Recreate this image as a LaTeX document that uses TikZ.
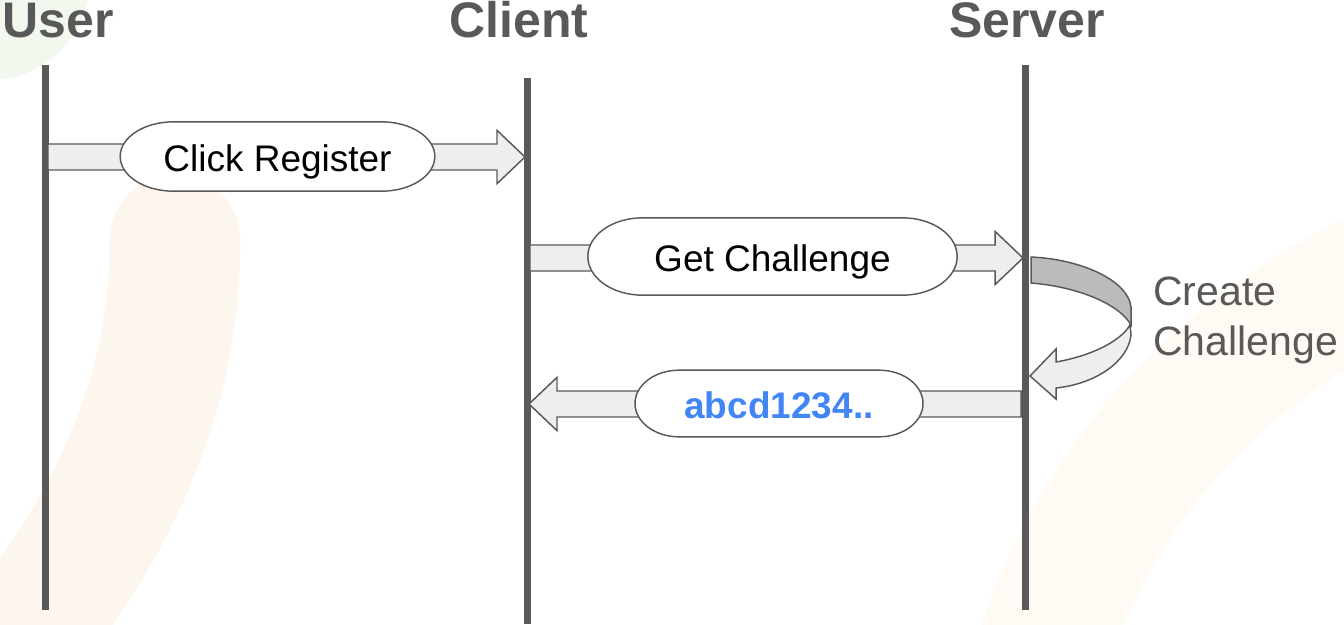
\documentclass[tikz,border=0pt]{standalone}
\usepackage{fontspec}
\setmainfont{Liberation Sans}
\usetikzlibrary{calc}
\definecolor{linegray}{HTML}{595959}
\definecolor{bodygray}{HTML}{EEEEEE}
\definecolor{bandgray}{HTML}{BBBBBB}
\definecolor{keyblue}{HTML}{4285F4}
\definecolor{peach}{HTML}{FDF6EF}
\definecolor{paleband}{HTML}{FFFBF4}
\definecolor{mint}{HTML}{F3F8EF}
\tikzset{
  lifeline/.style={line width=5.25pt, draw=linegray},
  actor/.style={anchor=base, text=linegray, font=\fontsize{37.5}{40}\selectfont\bfseries},
  msgbody/.style={fill=bodygray, draw=linegray, line width=1.1pt, line join=miter},
  msgshape/.style={fill=white, draw=linegray, line width=1.1pt},
  msgtext/.style={anchor=base, inner sep=0pt, font=\fontsize{27.75}{30}\selectfont},
}
% block arrow from #1 to the tip #2 (same height)
\newcommand\msgarrow[2]{%
  \filldraw[msgbody] let \p1=(#1), \p2=(#2), \n1={\x2-21pt*sign(\x2-\x1)} in
    (\x1,\y1+9.75pt) -- (\n1,\y1+9.75pt) -- (\n1,\y1+20pt) -- (\x2,\y1)
    -- (\n1,\y1-20pt) -- (\n1,\y1-9.75pt) -- (\x1,\y1-9.75pt) -- cycle;}
% capsule round #1: half width, half height, end radius
\newcommand\capsule[4]{%
  \filldraw[msgshape] ([xshift=-#2+#4, yshift=#3]#1) -- ([xshift=#2-#4, yshift=#3]#1)
    arc[start angle=90, end angle=-90, x radius=#4, y radius=#3]
    -- ([xshift=-#2+#4, yshift=-#3]#1)
    arc[start angle=270, end angle=90, x radius=#4, y radius=#3] -- cycle;}
\begin{document}
\begin{tikzpicture}[x=0.75pt, y=-0.75pt, line join=round]
	\useasboundingbox (0,0) rectangle (1344,624);
	% faint background
	\begin{scope}
	\clip (0,0) rectangle (1344,624);
	\fill[mint] (-10,-20) circle (100);
	\draw[peach, line width=98pt, line cap=round] (175,240) .. controls (175,400) and (110,540) .. (-20,690);
	\draw[paleband, line width=100pt] (1040,660) .. controls (1090,500) and (1200,360) .. (1390,270);
	\end{scope}
	% actors and lifelines
	\node[actor] (user) at (58,38) {User};
	\node[actor] (client) at (519,38) {Client};
	\node[actor] (server) at (1027,38) {Server};
	\coordinate (user top) at (45,65);   \coordinate (user end) at (45,610);
	\coordinate (client top) at (527,78); \coordinate (client end) at (527,624);
	\coordinate (server top) at (1025,65); \coordinate (server end) at (1025,610);
	\foreach \l in {user,client,server} \draw[lifeline] (\l\space top) -- (\l\space end);
	% messages
	\coordinate (m1 from) at (48,157);   \coordinate (m1 to) at (525,157);
	\coordinate (m2 from) at (530,258);  \coordinate (m2 to) at (1023,258);
	\coordinate (m3 from) at (1021,404); \coordinate (m3 to) at (529,404);
	\msgarrow{m1 from}{m1 to}
	\msgarrow{m2 from}{m2 to}
	\msgarrow{m3 from}{m3 to}
	\coordinate (register) at (277.5,156.5);
	\coordinate (get) at (772.5,256.5);
	\coordinate (reply) at (779,403.5);
	\capsule{register}{118pt}{26pt}{40pt}
	\capsule{get}{138.5pt}{29pt}{41pt}
	\capsule{reply}{108pt}{25pt}{33pt}
	\node[msgtext] (register label) at ($(register)+(0,15)$) {Click Register};
	\node[msgtext] (get label) at ($(get)+(0,14.5)$) {Get Challenge};
	\node[msgtext, text=keyblue, font=\fontsize{27.75}{30}\selectfont\bfseries] (reply label) at ($(reply)+(0,14.5)$) {abcd1234..};
	% self call on the server
	\filldraw[msgbody, fill=bandgray] (1031,257) .. controls (1080,259) and (1128,280) .. (1131,307)
		-- (1131,325) .. controls (1120,305) and (1080,287) .. (1031,283) -- cycle;
	\filldraw[msgbody] (1130,325) -- (1131,335) .. controls (1128,362) and (1095,384) .. (1056,388)
		-- (1056,399) -- (1030,376) -- (1056,349) -- (1056,362) .. controls (1090,356) and (1120,342) .. (1130,325) -- cycle;
	\node[anchor=west, align=left, inner sep=0pt, text=linegray, font=\fontsize{30.75}{37.5}\selectfont] (create) at (1153,320) {Create\\Challenge};
\end{tikzpicture}
\end{document}
